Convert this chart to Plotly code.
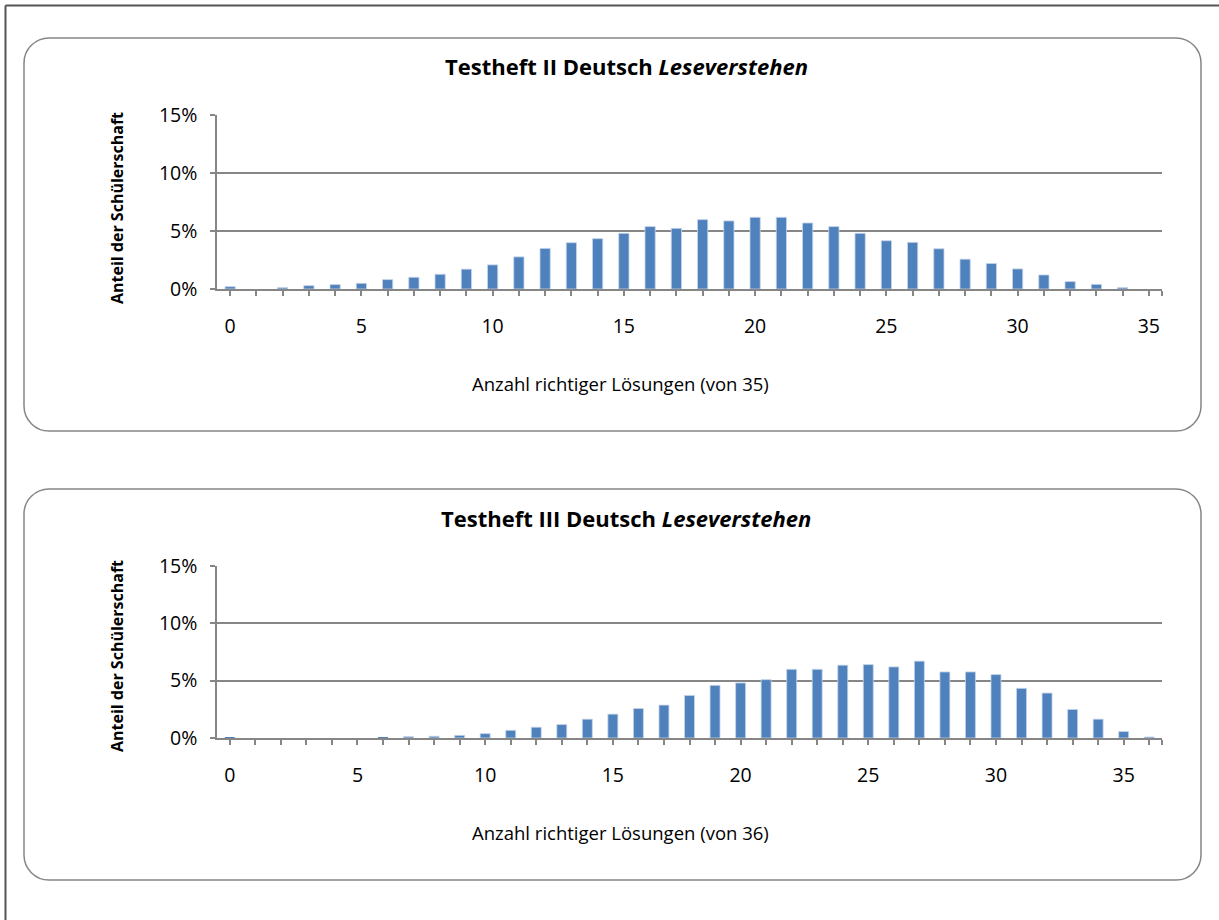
import plotly.graph_objects as go

W, H = 1219, 920

# ---------------- data ----------------
cats1 = list(range(0, 36))
vals1 = [0.20, 0.00, 0.12, 0.29, 0.38, 0.49, 0.81, 1.01, 1.27, 1.71,
         2.08, 2.77, 3.50, 3.99, 4.34, 4.80, 5.38, 5.23, 5.98, 5.87,
         6.18, 6.18, 5.69, 5.38, 4.80, 4.16, 4.02, 3.47, 2.57, 2.20,
         1.73, 1.21, 0.64, 0.40, 0.12, 0.00]

cats2 = list(range(0, 37))
vals2 = [0.03, 0.00, 0.00, 0.00, 0.00, 0.00, 0.02, 0.12, 0.15, 0.23,
         0.38, 0.67, 0.94, 1.17, 1.64, 2.08, 2.57, 2.87, 3.71, 4.59,
         4.80, 5.09, 5.99, 5.99, 6.35, 6.40, 6.20, 6.70, 5.76, 5.76,
         5.53, 4.33, 3.92, 2.49, 1.64, 0.56, 0.09]

title1 = "<b>Testheft II Deutsch <i>Leseverstehen</i></b>"
title2 = "<b>Testheft III Deutsch <i>Leseverstehen</i></b>"
xtitle1 = "Anzahl richtiger Lösungen (von 35)"
xtitle2 = "Anzahl richtiger Lösungen (von 36)"
ytitle = "<b>Anteil der Schülerschaft</b>"
yticks = [0, 0.05, 0.10, 0.15]
ytext = ["0%", "5%", "10%", "15%"]

FONT = "Open Sans"
BAR = "#4F81BD"
GRID = "#868686"


def fx(px):
    return px / W


def fy(py):
    return 1 - py / H


def rrect(x0, y0, x1, y1, r):
    k = 0.5523 * r
    p = lambda x, y: f"{fx(x):.6f},{fy(y):.6f}"
    return (f"M {p(x0 + r, y0)} L {p(x1 - r, y0)} "
            f"C {p(x1 - r + k, y0)} {p(x1, y0 + r - k)} {p(x1, y0 + r)} "
            f"L {p(x1, y1 - r)} "
            f"C {p(x1, y1 - r + k)} {p(x1 - r + k, y1)} {p(x1 - r, y1)} "
            f"L {p(x0 + r, y1)} "
            f"C {p(x0 + r - k, y1)} {p(x0, y1 - r + k)} {p(x0, y1 - r)} "
            f"L {p(x0, y0 + r)} "
            f"C {p(x0, y0 + r - k)} {p(x0 + r - k, y0)} {p(x0 + r, y0)} Z")


def bar(cats, vals, xa, ya):
    return go.Bar(x=cats, y=[v / 100 for v in vals], xaxis=xa, yaxis=ya,
                  marker=dict(color=BAR,
                              line=dict(color="#C5D4E8",
                                        width=[0.8 if v > 0.05 else 0 for v in vals])),
                  hoverinfo="x+y")


fig = go.Figure()
fig.add_trace(bar(cats1, vals1, "x", "y"))
fig.add_trace(bar(cats2, vals2, "x2", "y2"))


def xaxis_cfg(n, ydom_anchor):
    tv = list(range(0, n)) + [n - 0.5]
    tt = [str(i) if i % 5 == 0 else "" for i in range(0, n)] + [""]
    return dict(domain=[fx(217), fx(1162)], range=[-0.5, n - 0.5], anchor=ydom_anchor,
                tickmode="array", tickvals=tv, ticktext=tt, automargin=False,
                ticks="outside", ticklen=5, tickwidth=1.5, tickcolor=GRID,
                showline=True, linecolor=GRID, linewidth=1.5, showgrid=False,
                zeroline=False, tickfont=dict(family=FONT, size=19.5, color="#000"),
                ticklabelstandoff=14, fixedrange=True)


def yaxis_cfg(top, bottom, anchor):
    return dict(domain=[fy(bottom), fy(top)], range=[0, 0.15], anchor=anchor,
                tickmode="array", tickvals=yticks, ticktext=ytext, automargin=False,
                ticks="outside", ticklen=5, tickwidth=1.5, tickcolor=GRID,
                showline=True, linecolor=GRID, linewidth=1.5,
                showgrid=True, gridcolor=GRID, gridwidth=1.5, zeroline=False,
                tickfont=dict(family=FONT, size=19.5, color="#000"),
                ticklabelstandoff=9, fixedrange=True)


fig.update_layout(
    width=W, height=H, margin=dict(l=0, r=0, t=0, b=0, autoexpand=False),
    paper_bgcolor="white", plot_bgcolor="white", showlegend=False,
    bargap=0.61, font=dict(family=FONT, color="#000"),
    xaxis=xaxis_cfg(len(cats1), "y"),
    yaxis=yaxis_cfg(115, 289, "x"),
    xaxis2=xaxis_cfg(len(cats2), "y2"),
    yaxis2=yaxis_cfg(566, 738, "x2"),
)

shapes = [
    # outer frame (left + top)
    dict(type="line", xref="paper", yref="paper", x0=fx(5.5), y0=fy(5.5), x1=fx(5.5), y1=0,
         line=dict(color="#555555", width=2)),
    dict(type="line", xref="paper", yref="paper", x0=fx(5.5), y0=fy(5.5), x1=1, y1=fy(5.5),
         line=dict(color="#555555", width=2)),
    dict(type="path", xref="paper", yref="paper", path=rrect(24, 38, 1201, 431, 25),
         line=dict(color=GRID, width=1.5), layer="below"),
    dict(type="path", xref="paper", yref="paper", path=rrect(24, 489, 1201, 880, 25),
         line=dict(color=GRID, width=1.5), layer="below"),
]
fig.update_layout(shapes=shapes)

ann = []
for t, yt, xt, ya, yx, yy in [(title1, 66, xtitle1, 383, 117, 208),
                              (title2, 518, xtitle2, 832, 117, 656)]:
    ann.append(dict(text=t, x=fx(626), y=fy(yt), xref="paper", yref="paper",
                    showarrow=False, xanchor="center", yanchor="middle",
                    font=dict(family=FONT, size=22, color="#000")))
    ann.append(dict(text=xt, x=fx(620), y=fy(ya), xref="paper", yref="paper",
                    showarrow=False, xanchor="center", yanchor="middle",
                    font=dict(family=FONT, size=18.5, color="#000")))
    ann.append(dict(text=ytitle, x=fx(yx), y=fy(yy), xref="paper", yref="paper",
                    showarrow=False, xanchor="center", yanchor="middle", textangle=-90,
                    font=dict(family=FONT, size=16, color="#000")))
fig.update_layout(annotations=ann)

fig.write_html("out.html", config={"displayModeBar": False},
               post_script="document.body.style.margin='0';document.body.style.overflow='hidden';")
